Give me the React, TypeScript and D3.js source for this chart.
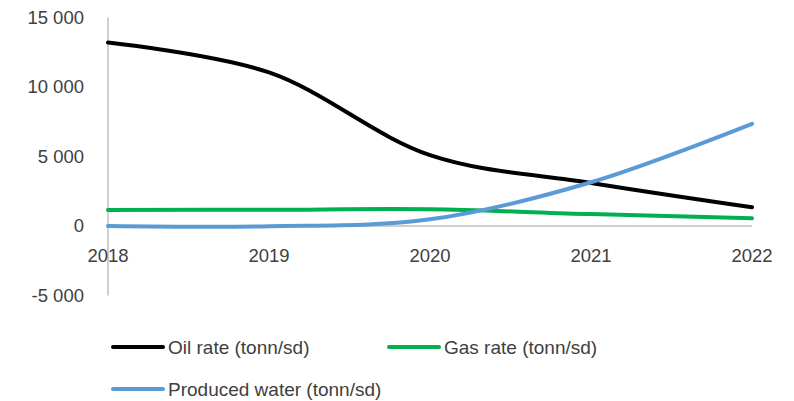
import React from "react";
import * as d3 from "d3";

const years = [2018, 2019, 2020, 2021, 2022];
const oilRate = [13200, 11050, 5100, 3100, 1350];
const gasRate = [1150, 1170, 1200, 860, 560];
const producedWater = [0, -20, 480, 3150, 7350];
const xTicks = [2018, 2019, 2020, 2021, 2022];
const yTicks = [-5000, 0, 5000, 10000, 15000];

const seriesList = [
  { name: "Oil rate (tonn/sd)", values: oilRate, color: "#000000" },
  { name: "Gas rate (tonn/sd)", values: gasRate, color: "#00b050" },
  { name: "Produced water (tonn/sd)", values: producedWater, color: "#5b9bd5" },
];

const fmt = (v: number) => {
  const s = Math.abs(v).toString().replace(/\B(?=(\d{3})+(?!\d))/g, " ");
  return (v < 0 ? "-" : "") + s;
};

export default function App() {
  const W = 794, H = 401;
  const x = d3.scaleLinear().domain([2018, 2022]).range([108, 752]);
  const y = d3.scaleLinear().domain([-5000, 15000]).range([295.5, 17.5]);
  const line = d3
    .line<number>()
    .x((_, i) => x(years[i]))
    .y((d) => y(d))
    .curve(d3.curveCatmullRom.alpha(0.5));
  const textColor = "#404040";
  const font = "'Liberation Sans', Arial, sans-serif";
  const legend = [
    { s: seriesList[0], lx: 113, ly: 347 },
    { s: seriesList[1], lx: 389, ly: 347 },
    { s: seriesList[2], lx: 113, ly: 389 },
  ];
  return (
    <svg
      width={W}
      height={H}
      style={{ position: "absolute", left: 0, top: 0, background: "#fff" }}
      fontFamily={font}
    >
      <rect width={W} height={H} fill="#fff" />
      <line x1={x(2018)} x2={x(2018)} y1={y(15000)} y2={y(-5000)} stroke="#bfbfbf" strokeWidth={1.5} />
      <line x1={x(2018)} x2={x(2022)} y1={y(0)} y2={y(0)} stroke="#bfbfbf" strokeWidth={1.5} />
      {yTicks.map((t) => (
        <text key={t} x={84} y={y(t)} dy="0.35em" textAnchor="end" fontSize={18.5} fill={textColor}>
          {fmt(t)}
        </text>
      ))}
      {xTicks.map((t) => (
        <text key={t} x={x(t)} y={256} dy="0.35em" textAnchor="middle" fontSize={18.5} fill={textColor}>
          {t}
        </text>
      ))}
      {seriesList.map((s) => (
        <path key={s.name} d={line(s.values) || ""} fill="none" stroke={s.color} strokeWidth={4} strokeLinecap="round" />
      ))}
      {legend.map(({ s, lx, ly }) => (
        <g key={s.name}>
          <line x1={lx} x2={lx + 50} y1={ly} y2={ly} stroke={s.color} strokeWidth={4} strokeLinecap="round" />
          <text x={lx + 55} y={ly} dy="0.35em" fontSize={19} fill={textColor}>
            {s.name}
          </text>
        </g>
      ))}
    </svg>
  );
}
